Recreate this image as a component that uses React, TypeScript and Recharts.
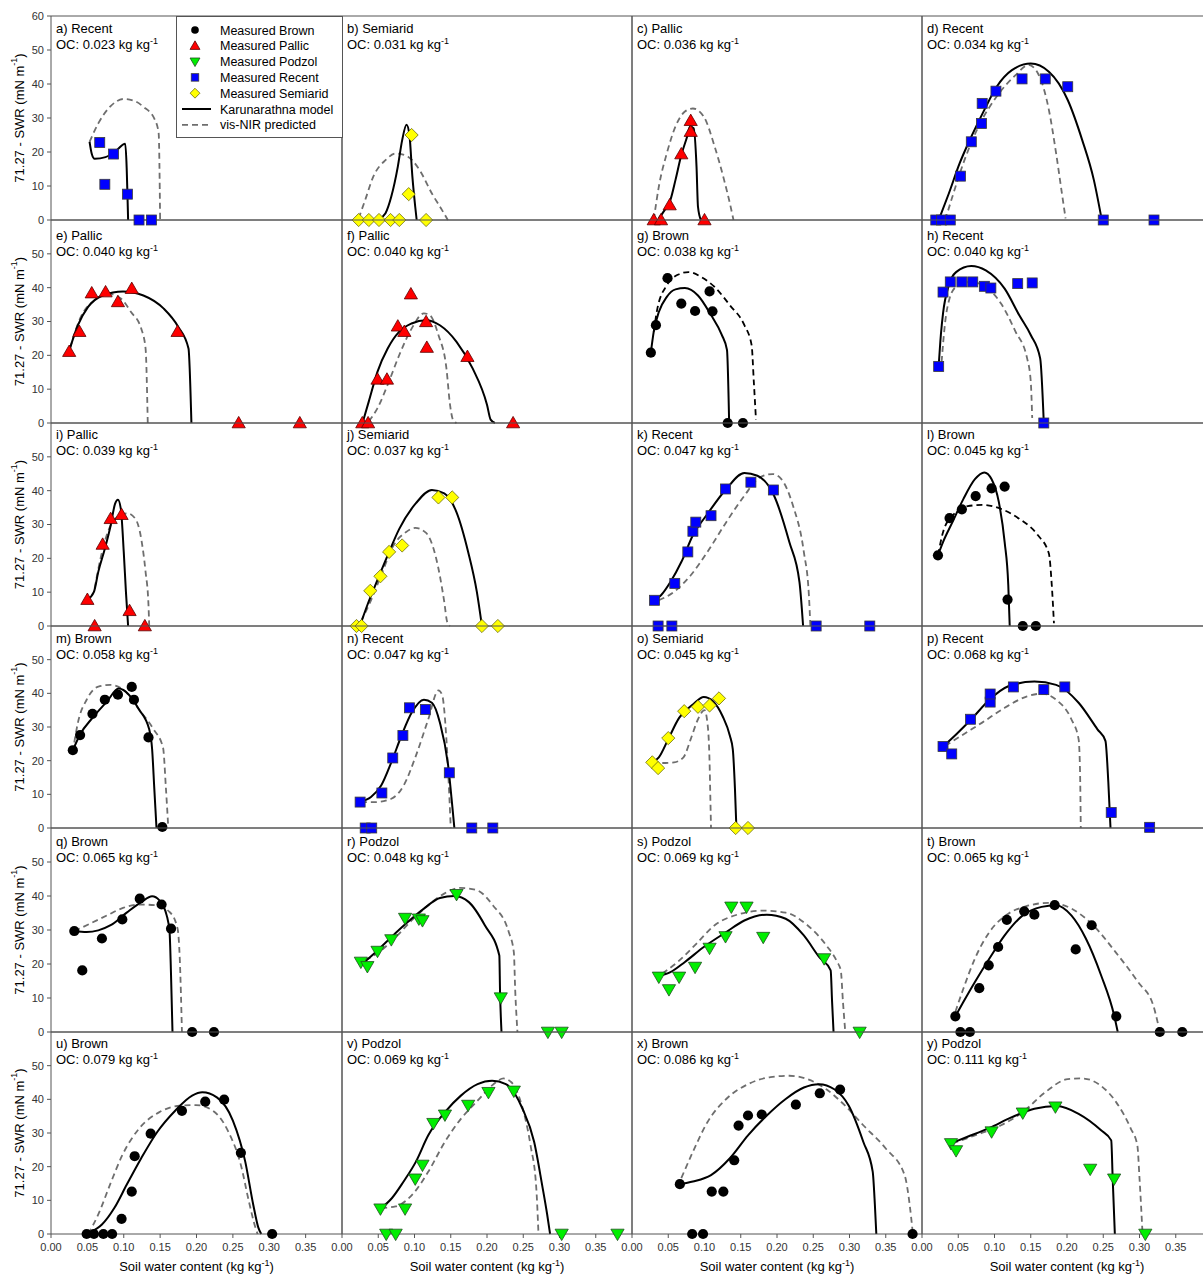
import React from 'react'
import { ComposedChart, Line, Scatter, XAxis, YAxis, ReferenceLine, Legend } from 'recharts'

type Pt = [number, number]

// panel headers
const panelIds = ['a', 'b', 'c', 'd', 'e', 'f', 'g', 'h', 'i', 'j', 'k', 'l', 'm', 'n', 'o', 'p', 'q', 'r', 's', 't', 'u', 'v', 'x', 'y']
const soilTypes = [
  'Recent', 'Semiarid', 'Pallic', 'Recent',
  'Pallic', 'Pallic', 'Brown', 'Recent',
  'Pallic', 'Semiarid', 'Recent', 'Brown',
  'Brown', 'Recent', 'Semiarid', 'Recent',
  'Brown', 'Podzol', 'Podzol', 'Brown',
  'Brown', 'Podzol', 'Brown', 'Podzol',
]
const ocValues = [
  '0.023', '0.031', '0.036', '0.034',
  '0.040', '0.040', '0.038', '0.040',
  '0.039', '0.037', '0.047', '0.045',
  '0.058', '0.047', '0.045', '0.068',
  '0.065', '0.048', '0.069', '0.065',
  '0.079', '0.069', '0.086', '0.111',
]
// panels where the vis-NIR curve is drawn black
const blackNirPanels = ['g', 'l']

const xTicks = [0, 0.05, 0.1, 0.15, 0.2, 0.25, 0.3, 0.35]
const yTicks = [0, 10, 20, 30, 40, 50]
const yTicksTop = [0, 10, 20, 30, 40, 50, 60]

const legendLabels = ['Measured Brown', 'Measured Pallic', 'Measured Podzol', 'Measured Recent', 'Measured Semiarid', 'Karunarathna model', 'vis-NIR predicted']
const legendSoils = ['Brown', 'Pallic', 'Podzol', 'Recent', 'Semiarid']

// [soil water content, 71.27 - SWR]
const aPts: Pt[] = [[0.067, 22.8], [0.086, 19.4], [0.074, 10.5], [0.105, 7.6], [0.121, 0], [0.138, 0]]
const aModel: Pt[] = [[0.053, 23], [0.056, 19.5], [0.060, 18], [0.075, 18.5], [0.090, 20.5], [0.102, 22.4], [0.106, 0]]
const aNir: Pt[] = [[0.053, 23], [0.065, 28.4], [0.082, 33.5], [0.100, 35.6], [0.115, 35], [0.127, 33.3], [0.143, 29.4], [0.148, 25.5], [0.150, 0]]

const bPts: Pt[] = [[0.023, 0], [0.037, 0], [0.051, 0], [0.067, 0], [0.079, 0], [0.096, 25], [0.092, 7.6], [0.116, 0]]
const bModel: Pt[] = [[0.051, 0.3], [0.060, 2], [0.068, 6.9], [0.077, 15.7], [0.083, 23.5], [0.089, 28], [0.093, 25], [0.097, 13], [0.101, 3.9], [0.103, 0]]
const bNir: Pt[] = [[0.023, 0.5], [0.032, 5.9], [0.043, 12.7], [0.060, 17.6], [0.074, 19.6], [0.091, 18.6], [0.107, 14.7], [0.124, 7.8], [0.138, 2.9], [0.146, 0]]

const cPts: Pt[] = [[0.030, 0], [0.040, 0], [0.052, 4.4], [0.068, 19.4], [0.081, 26], [0.081, 29.2], [0.100, 0]]
const cModel: Pt[] = [[0.037, 0.5], [0.045, 2.9], [0.053, 5.9], [0.060, 11.8], [0.068, 19.1], [0.076, 24.5], [0.080, 27.5], [0.085, 27], [0.089, 15.7], [0.091, 3.9], [0.095, 0]]
const cNir: Pt[] = [[0.030, 0], [0.037, 9.8], [0.048, 19.6], [0.060, 27.5], [0.073, 31.9], [0.084, 32.8], [0.099, 30.4], [0.114, 21.6], [0.127, 11.8], [0.135, 4.9], [0.140, 0]]

const dPts: Pt[] = [[0.019, 0], [0.027, 0], [0.039, 0], [0.053, 12.9], [0.068, 23], [0.082, 28.4], [0.083, 34.3], [0.102, 37.9], [0.138, 41.5], [0.170, 41.5], [0.201, 39.2], [0.250, 0], [0.320, 0]]
const dModel: Pt[] = [[0.024, 0.5], [0.037, 7.8], [0.052, 16.7], [0.068, 24.5], [0.086, 32.4], [0.103, 39.2], [0.124, 44.1], [0.150, 46], [0.175, 43.6], [0.201, 35.3], [0.221, 23.5], [0.237, 11.8], [0.248, 0]]
const dNir: Pt[] = [[0.032, 0], [0.042, 6.9], [0.057, 16.7], [0.078, 27.5], [0.103, 36.3], [0.129, 42.6], [0.147, 45.6], [0.160, 43.1], [0.175, 32.4], [0.185, 19.6], [0.193, 7.8], [0.198, 0.5]]

const ePts: Pt[] = [[0.025, 21.1], [0.039, 27], [0.056, 38.4], [0.075, 38.7], [0.092, 35.8], [0.111, 39.7], [0.174, 27], [0.258, 0], [0.342, 0]]
const eModel: Pt[] = [[0.026, 22], [0.037, 28.9], [0.051, 34.3], [0.071, 37.7], [0.099, 38.9], [0.127, 37.7], [0.155, 33.8], [0.175, 28.4], [0.189, 22], [0.193, 0]]
const eNir: Pt[] = [[0.026, 22], [0.040, 30.9], [0.060, 36.3], [0.079, 38.2], [0.096, 36.8], [0.110, 32.8], [0.124, 27.9], [0.130, 22], [0.133, 0]]

const fPts: Pt[] = [[0.028, 0], [0.036, 0], [0.049, 12.9], [0.062, 12.9], [0.077, 28.6], [0.086, 27], [0.095, 38.1], [0.116, 29.9], [0.117, 22.3], [0.173, 19.6], [0.236, 0]]
const fModel: Pt[] = [[0.029, 0.5], [0.037, 6.4], [0.049, 15.2], [0.063, 22], [0.079, 27], [0.096, 29.4], [0.116, 30.4], [0.135, 28.9], [0.158, 24], [0.180, 16.2], [0.200, 5.4], [0.205, 1], [0.211, 0]]
const fNir: Pt[] = [[0.037, 0.5], [0.049, 4.4], [0.063, 11.3], [0.079, 20.1], [0.096, 27.9], [0.113, 32.4], [0.121, 31.9], [0.133, 26], [0.144, 16.2], [0.149, 5.4], [0.153, 1], [0.158, 0]]

const gPts: Pt[] = [[0.026, 20.8], [0.033, 28.9], [0.049, 42.8], [0.068, 35.3], [0.087, 33.1], [0.107, 38.9], [0.111, 33], [0.132, 0], [0.153, 0]]
const gModel: Pt[] = [[0.026, 20.8], [0.030, 27], [0.037, 32.8], [0.048, 37.3], [0.060, 39.5], [0.073, 39.9], [0.091, 37.7], [0.109, 31.9], [0.124, 26], [0.131, 21.6], [0.134, 0]]
const gNir: Pt[] = [[0.030, 27], [0.035, 33.8], [0.048, 40.7], [0.063, 43.8], [0.078, 44.6], [0.096, 43.1], [0.114, 40.2], [0.135, 34.8], [0.155, 28.9], [0.165, 23], [0.168, 12.3], [0.171, 1]]

const hPts: Pt[] = [[0.023, 16.7], [0.029, 38.7], [0.039, 41.7], [0.055, 41.7], [0.070, 41.7], [0.086, 40.4], [0.095, 39.9], [0.132, 41.2], [0.152, 41.4], [0.168, 0]]
const hModel: Pt[] = [[0.023, 16.7], [0.026, 26], [0.029, 32.4], [0.037, 40.7], [0.047, 44.6], [0.068, 46.4], [0.088, 45.1], [0.114, 39.7], [0.134, 31.9], [0.150, 26], [0.163, 19.1], [0.168, 0]]
const hNir: Pt[] = [[0.027, 18], [0.032, 29.9], [0.038, 36.8], [0.047, 40.2], [0.068, 41.7], [0.088, 40.2], [0.109, 35.3], [0.129, 27], [0.145, 19.1], [0.150, 12.3], [0.152, 1.5]]

const iPts: Pt[] = [[0.050, 7.8], [0.060, 0], [0.071, 24.1], [0.082, 31.7], [0.097, 32.9], [0.108, 4.5], [0.129, 0]]
const iModel: Pt[] = [[0.050, 7.8], [0.059, 10.1], [0.065, 16], [0.074, 22.8], [0.082, 29.7], [0.088, 36.1], [0.092, 37.3], [0.096, 34.6], [0.100, 21.9], [0.103, 10.1], [0.106, 0]]
const iNir: Pt[] = [[0.060, 11.1], [0.068, 19.9], [0.078, 27.7], [0.088, 31.7], [0.105, 33.3], [0.116, 31.7], [0.124, 25.8], [0.130, 16], [0.134, 6.2], [0.135, 0]]

const jPts: Pt[] = [[0.020, 0], [0.027, 0], [0.039, 10.4], [0.053, 14.7], [0.065, 21.9], [0.083, 23.8], [0.133, 38], [0.152, 38], [0.193, 0], [0.215, 0]]
const jModel: Pt[] = [[0.026, 0.8], [0.035, 6.2], [0.046, 12.1], [0.063, 20.9], [0.079, 28.7], [0.102, 36.3], [0.124, 40.2], [0.141, 39.2], [0.158, 33.6], [0.174, 21.9], [0.186, 10.1], [0.193, 0]]
const jNir: Pt[] = [[0.026, 1.3], [0.040, 7.6], [0.054, 15], [0.071, 23.8], [0.088, 27.7], [0.101, 29], [0.116, 27.5], [0.130, 19.9], [0.141, 7.2], [0.145, 1.3], [0.149, 0]]

const kPts: Pt[] = [[0.031, 7.6], [0.036, 0], [0.055, 0], [0.059, 12.6], [0.077, 21.9], [0.084, 28], [0.088, 30.7], [0.109, 32.6], [0.129, 40.5], [0.164, 42.5], [0.195, 40.2], [0.254, 0], [0.328, 0]]
const kModel: Pt[] = [[0.031, 7.6], [0.040, 9.1], [0.053, 13], [0.068, 18.9], [0.084, 26.8], [0.104, 33.1], [0.130, 40.5], [0.155, 45.2], [0.173, 44.4], [0.196, 38.5], [0.217, 24.8], [0.231, 13], [0.236, 0]]
const kNir: Pt[] = [[0.037, 7.6], [0.058, 10.1], [0.081, 15], [0.104, 21.9], [0.130, 30.7], [0.155, 38.5], [0.176, 43.9], [0.194, 44.9], [0.206, 43.4], [0.222, 35.6], [0.237, 21.9], [0.244, 9.1], [0.246, 0]]

const lPts: Pt[] = [[0.022, 20.9], [0.038, 31.9], [0.055, 34.5], [0.074, 38.4], [0.096, 40.7], [0.114, 41.2], [0.118, 7.8], [0.139, 0], [0.157, 0]]
const lModel: Pt[] = [[0.022, 20.9], [0.029, 24.8], [0.042, 30.7], [0.057, 37.5], [0.073, 43.4], [0.086, 45.4], [0.096, 43.4], [0.106, 36.6], [0.114, 24.8], [0.119, 12.1], [0.121, 0]]
const lNir: Pt[] = [[0.022, 20.9], [0.029, 27.7], [0.042, 32.6], [0.063, 35.4], [0.083, 35.8], [0.109, 34.6], [0.134, 31.7], [0.160, 26.8], [0.175, 21.4], [0.179, 12.1], [0.182, 0.8]]

const mPts: Pt[] = [[0.030, 23.1], [0.040, 27.6], [0.057, 33.9], [0.074, 38.1], [0.092, 39.6], [0.111, 41.9], [0.114, 38.1], [0.134, 26.9], [0.153, 0.3]]
const mModel: Pt[] = [[0.030, 23.1], [0.040, 27.8], [0.057, 32.7], [0.077, 37.6], [0.093, 41.4], [0.107, 39.6], [0.121, 35.2], [0.135, 29.3], [0.139, 23.4], [0.142, 11.7], [0.145, 0]]
const mNir: Pt[] = [[0.032, 25.4], [0.037, 31.3], [0.049, 38.1], [0.065, 42], [0.082, 42.5], [0.102, 40.6], [0.121, 35.2], [0.141, 29.3], [0.154, 23.9], [0.158, 11.7], [0.161, 0.9]]

const nPts: Pt[] = [[0.025, 7.7], [0.032, 0], [0.041, 0], [0.055, 10.4], [0.070, 20.8], [0.084, 27.5], [0.093, 35.7], [0.115, 35.2], [0.148, 16.4], [0.179, 0], [0.208, 0]]
const nModel: Pt[] = [[0.025, 7.7], [0.040, 9.2], [0.054, 12.6], [0.068, 19.5], [0.082, 27.4], [0.096, 34.2], [0.113, 38.1], [0.124, 37.2], [0.135, 31.3], [0.147, 17.5], [0.152, 6.8], [0.155, 0]]
const nNir: Pt[] = [[0.026, 7.7], [0.046, 7.7], [0.068, 8.7], [0.085, 12.6], [0.102, 21.5], [0.119, 32.3], [0.133, 40.9], [0.138, 39.6], [0.144, 26.4], [0.148, 9.7], [0.150, 0]]

const oPts: Pt[] = [[0.028, 19.5], [0.036, 17.8], [0.050, 26.7], [0.072, 34.7], [0.091, 36], [0.107, 36.4], [0.120, 38.5], [0.143, 0], [0.160, 0]]
const oModel: Pt[] = [[0.028, 19.5], [0.037, 21], [0.050, 26.4], [0.065, 32.7], [0.084, 36.7], [0.099, 38.9], [0.112, 37.6], [0.125, 33.2], [0.135, 27.4], [0.139, 23.4], [0.142, 11.7], [0.144, 0]]
const oNir: Pt[] = [[0.028, 19.5], [0.040, 19.3], [0.058, 19.5], [0.071, 21], [0.081, 26.4], [0.091, 32.3], [0.100, 35], [0.104, 31.3], [0.107, 19.5], [0.108, 9.7], [0.109, 0]]

const pPts: Pt[] = [[0.029, 24.2], [0.041, 22], [0.067, 32.3], [0.094, 37.4], [0.094, 39.8], [0.126, 41.9], [0.168, 41.1], [0.197, 41.9], [0.261, 4.6], [0.314, 0.2]]
const pModel: Pt[] = [[0.029, 24.2], [0.047, 27.8], [0.068, 32.3], [0.093, 38.1], [0.119, 42.1], [0.155, 43.5], [0.185, 42.5], [0.216, 37.2], [0.242, 29.3], [0.253, 25.9], [0.257, 13.6], [0.260, 0]]
const pNir: Pt[] = [[0.032, 24.4], [0.057, 27.8], [0.083, 31.3], [0.114, 35.7], [0.145, 39.1], [0.165, 39.9], [0.185, 38.1], [0.206, 32.3], [0.216, 26.4], [0.218, 16.6], [0.219, 0]]

const qPts: Pt[] = [[0.032, 29.7], [0.043, 18.1], [0.070, 27.5], [0.098, 33.1], [0.122, 39.2], [0.152, 37.5], [0.165, 30.4], [0.194, 0], [0.224, 0]]
const qModel: Pt[] = [[0.032, 29.7], [0.049, 29.4], [0.065, 29.9], [0.082, 31.4], [0.104, 35.1], [0.124, 38.2], [0.139, 39.9], [0.149, 38.7], [0.159, 34.3], [0.163, 29.4], [0.165, 16.7], [0.167, 0]]
const qNir: Pt[] = [[0.032, 29.7], [0.054, 31.9], [0.077, 34.3], [0.099, 36.5], [0.121, 37.5], [0.143, 37.3], [0.163, 35.3], [0.174, 30.4], [0.177, 21.6], [0.180, 0]]

const rPts: Pt[] = [[0.026, 20.6], [0.035, 19.3], [0.049, 23.8], [0.068, 27.2], [0.087, 33.5], [0.106, 33.3], [0.111, 32.8], [0.158, 40.5], [0.219, 10.1], [0.284, 0], [0.303, 0]]
const rModel: Pt[] = [[0.032, 20.8], [0.049, 24], [0.068, 27.9], [0.091, 32.4], [0.113, 36.3], [0.135, 39.4], [0.155, 40], [0.175, 38.2], [0.197, 31.4], [0.217, 22.5], [0.218, 11.8], [0.220, 0]]
const rNir: Pt[] = [[0.032, 21.1], [0.051, 23.5], [0.074, 27.9], [0.096, 32.8], [0.119, 37.3], [0.141, 40.7], [0.163, 42.4], [0.186, 41.7], [0.208, 37.3], [0.230, 29.4], [0.237, 23.5], [0.239, 11.8], [0.242, 0]]

const sPts: Pt[] = [[0.037, 16.2], [0.051, 12.5], [0.065, 16.2], [0.087, 19.1], [0.107, 24.7], [0.129, 28.1], [0.137, 36.8], [0.158, 36.8], [0.181, 27.9], [0.265, 21.6], [0.314, 0]]
const sModel: Pt[] = [[0.037, 16.5], [0.053, 17.6], [0.073, 20.6], [0.099, 25], [0.130, 29.4], [0.155, 32.8], [0.186, 34.5], [0.212, 33.3], [0.237, 28.4], [0.258, 22.1], [0.274, 18.1], [0.276, 8.8], [0.278, 0]]
const sNir: Pt[] = [[0.042, 17.2], [0.063, 20.6], [0.089, 26], [0.114, 31.4], [0.145, 34.5], [0.181, 35.7], [0.212, 35.1], [0.242, 31.4], [0.268, 25.5], [0.283, 20.6], [0.288, 18.1], [0.291, 8.8], [0.294, 0.5]]

const tPts: Pt[] = [[0.046, 4.6], [0.053, 0], [0.066, 0], [0.079, 12.9], [0.092, 19.6], [0.105, 25], [0.117, 33], [0.141, 35.5], [0.155, 34.5], [0.183, 37.3], [0.212, 24.3], [0.234, 31.4], [0.268, 4.6], [0.328, 0], [0.359, 0]]
const tModel: Pt[] = [[0.046, 4.6], [0.057, 8.8], [0.073, 14.7], [0.093, 21.6], [0.114, 28.4], [0.139, 34.3], [0.165, 36.8], [0.185, 37.3], [0.206, 34.3], [0.226, 27.5], [0.247, 16.7], [0.265, 4.9], [0.270, 0]]
const tNir: Pt[] = [[0.046, 5.9], [0.057, 12.7], [0.073, 21.6], [0.093, 29.4], [0.119, 34.8], [0.144, 37], [0.175, 38], [0.206, 36.3], [0.236, 31.4], [0.267, 23.5], [0.298, 14.7], [0.319, 7.8], [0.327, 1]]

const uPts: Pt[] = [[0.049, 0], [0.059, 0], [0.072, 0], [0.084, 0], [0.097, 4.5], [0.111, 12.6], [0.115, 23.1], [0.137, 29.8], [0.180, 36.6], [0.212, 39.3], [0.238, 39.9], [0.261, 24.1], [0.304, 0]]
const uModel: Pt[] = [[0.053, 0.4], [0.070, 2.8], [0.087, 7.7], [0.104, 14.6], [0.124, 22.5], [0.146, 30.3], [0.171, 36.7], [0.194, 41.1], [0.208, 42.1], [0.228, 40.6], [0.250, 33.7], [0.267, 21.5], [0.278, 8.7], [0.285, 1.9], [0.289, 0]]
const uNir: Pt[] = [[0.051, 0], [0.065, 5.8], [0.081, 14.6], [0.098, 23.4], [0.121, 31.3], [0.149, 36.2], [0.177, 38.1], [0.199, 38.3], [0.222, 36.7], [0.244, 30.3], [0.261, 20.5], [0.272, 9.7], [0.281, 1.9], [0.284, 0]]

const vPts: Pt[] = [[0.053, 7.5], [0.061, 0], [0.074, 0], [0.087, 7.5], [0.101, 16.4], [0.111, 20.5], [0.126, 32.9], [0.142, 35.4], [0.174, 38.3], [0.202, 42.1], [0.237, 42.5], [0.303, 0], [0.380, 0]]
const vModel: Pt[] = [[0.053, 7.5], [0.069, 10.7], [0.085, 15.6], [0.102, 21.5], [0.119, 29.3], [0.142, 36.2], [0.164, 41.1], [0.187, 44.5], [0.207, 45.5], [0.226, 44.5], [0.249, 37.2], [0.265, 27.4], [0.276, 14.6], [0.283, 5.8], [0.287, 0]]
const vNir: Pt[] = [[0.054, 7.7], [0.074, 8.2], [0.097, 11.7], [0.119, 18.5], [0.142, 27.4], [0.164, 34.2], [0.187, 39.6], [0.209, 44.5], [0.223, 46.2], [0.234, 45], [0.248, 38.2], [0.260, 26.4], [0.268, 13.6], [0.271, 0]]

const xPts: Pt[] = [[0.066, 14.8], [0.083, 0], [0.098, 0], [0.110, 12.6], [0.126, 12.6], [0.141, 21.9], [0.147, 32.2], [0.160, 35.2], [0.179, 35.5], [0.226, 38.4], [0.259, 41.8], [0.287, 42.9], [0.387, 0]]
const xModel: Pt[] = [[0.066, 14.8], [0.084, 15.6], [0.109, 17.5], [0.135, 22.5], [0.160, 29.3], [0.186, 35.2], [0.212, 40.1], [0.237, 43.5], [0.258, 44.5], [0.279, 43], [0.299, 38.1], [0.319, 27.4], [0.332, 18.5], [0.335, 8.7], [0.337, 0]]
const xNir: Pt[] = [[0.068, 16.6], [0.084, 24.4], [0.104, 33.2], [0.130, 40.1], [0.160, 44.5], [0.191, 46.6], [0.217, 47], [0.242, 46], [0.268, 43], [0.294, 38.1], [0.319, 32.3], [0.350, 25.4], [0.376, 17.5], [0.383, 8.7], [0.387, 0.9]]

const yPts: Pt[] = [[0.040, 26.9], [0.047, 24.8], [0.096, 30.4], [0.139, 36], [0.184, 37.8], [0.232, 19.3], [0.265, 16.4], [0.308, 0]]
const yModel: Pt[] = [[0.040, 26.9], [0.062, 28.8], [0.093, 31.5], [0.124, 34.7], [0.155, 37.2], [0.186, 38], [0.216, 35.7], [0.247, 30.8], [0.261, 27.8], [0.263, 16.6], [0.266, 0]]
const yNir: Pt[] = [[0.042, 26.9], [0.073, 29.3], [0.109, 32.3], [0.139, 36.2], [0.170, 42.1], [0.201, 46], [0.221, 46.2], [0.247, 44], [0.268, 39.1], [0.288, 31.3], [0.297, 26.4], [0.300, 16.6], [0.304, 0.9]]

const measured = [aPts, bPts, cPts, dPts, ePts, fPts, gPts, hPts, iPts, jPts, kPts, lPts, mPts, nPts, oPts, pPts, qPts, rPts, sPts, tPts, uPts, vPts, xPts, yPts]
const modelCurves = [aModel, bModel, cModel, dModel, eModel, fModel, gModel, hModel, iModel, jModel, kModel, lModel, mModel, nModel, oModel, pModel, qModel, rModel, sModel, tModel, uModel, vModel, xModel, yModel]
const nirCurves = [aNir, bNir, cNir, dNir, eNir, fNir, gNir, hNir, iNir, jNir, kNir, lNir, mNir, nNir, oNir, pNir, qNir, rNir, sNir, tNir, uNir, vNir, xNir, yNir]

// layout
const colLefts = [51, 342, 632, 922]
const colWidths = [291, 290, 290, 290]
const rowBottoms = [220, 423, 626, 828, 1032, 1234]
const firstTop = 16
const titleOffsets = [12, 15, 11, 12, 13, 11]
const YW = 45
const TM = 6
const RM = 4
const XH = 45
const FONT = '"Liberation Sans", Arial, Helvetica, sans-serif'
const FRAME = '#555'

const toXY = (pts: Pt[]) => pts.map(([x, y]) => ({ x, y }))

function Marker({ cx, cy, soil, s = 1 }: { cx?: number; cy?: number; soil: string; s?: number }) {
  if (cx == null || cy == null) return null
  if (soil === 'Brown') return <circle cx={cx} cy={cy} r={5.1 * s} fill="#000" />
  if (soil === 'Pallic')
    return <polygon points={`${cx},${cy - 6.6 * s} ${cx + 6.6 * s},${cy + 4.8 * s} ${cx - 6.6 * s},${cy + 4.8 * s}`} fill="#ff0000" stroke="#5a0000" strokeWidth={0.8} />
  if (soil === 'Podzol')
    return <polygon points={`${cx - 6.6 * s},${cy - 4.8 * s} ${cx + 6.6 * s},${cy - 4.8 * s} ${cx},${cy + 6.6 * s}`} fill="#00ee00" stroke="#1f4f1f" strokeWidth={0.8} />
  if (soil === 'Recent')
    return <rect x={cx - 5 * s} y={cy - 5 * s} width={10 * s} height={10 * s} fill="#0000ff" stroke="#3a3a3a" strokeWidth={0.8} />
  return <polygon points={`${cx},${cy - 6.6 * s} ${cx + 6.6 * s},${cy} ${cx},${cy + 6.6 * s} ${cx - 6.6 * s},${cy}`} fill="#ffff00" stroke="#6b6b10" strokeWidth={0.8} />
}

function LegendBox() {
  return (
    <div style={{ width: 167, height: 122, border: `1px solid ${FRAME}`, background: '#fff', boxSizing: 'border-box' }}>
      <svg width={165} height={120} style={{ display: 'block' }}>
        {legendLabels.map((label, i) => {
          const cy = 13 + i * 15.8
          let mark: React.ReactNode
          if (i < legendSoils.length) mark = <Marker cx={18} cy={cy} soil={legendSoils[i]} s={0.75} />
          else if (i === 5) mark = <line x1={5} x2={34} y1={cy} y2={cy} stroke="#000" strokeWidth={2} />
          else mark = <line x1={5} x2={34} y1={cy} y2={cy} stroke="#6e6e6e" strokeWidth={1.8} strokeDasharray="6 4" />
          return (
            <g key={label}>
              {mark}
              <text x={43} y={cy + 4.5} fontFamily={FONT} fontSize={12.5} fill="#000">{label}</text>
            </g>
          )
        })}
      </svg>
    </div>
  )
}

function Panel({ idx }: { idx: number }) {
  const col = idx % 4
  const row = Math.floor(idx / 4)
  const left = colLefts[col]
  const pw = colWidths[col]
  const bottom = rowBottoms[row]
  const top = row === 0 ? firstTop : rowBottoms[row - 1]
  const ph = bottom - top
  const soil = soilTypes[idx]
  const isBottom = row === rowBottoms.length - 1
  const nirColor = blackNirPanels.includes(panelIds[idx]) ? '#000' : '#6e6e6e'
  const tickStyle = { fontSize: 11, fill: '#333', fontFamily: FONT }
  const tOff = titleOffsets[row]

  const panelText = () => (
    <g fontFamily={FONT} fill="#000">
      <text x={YW + 5} y={TM + tOff + 4.5} fontSize={13}>{`${panelIds[idx]}) ${soil}`}</text>
      <text x={YW + 5} y={TM + tOff + 20.5} fontSize={13}>
        {`OC: ${ocValues[idx]} kg kg`}
        <tspan dy={-5} fontSize={9}>-1</tspan>
      </text>
      {col === 0 && (
        <text
          transform={`translate(13, ${TM + ph / 2}) rotate(-90)`}
          textAnchor="middle"
          dominantBaseline="central"
          fontSize={13}
        >
          71.27 - SWR (mN m<tspan dy={-5} fontSize={9}>-1</tspan><tspan dy={5}>)</tspan>
        </text>
      )}
    </g>
  )

  const xTitle = () => (
    <text x={YW + pw / 2} y={TM + ph + 37} textAnchor="middle" fontFamily={FONT} fontSize={13} fill="#000">
      Soil water content (kg kg<tspan dy={-5} fontSize={9}>-1</tspan><tspan dy={5}>)</tspan>
    </text>
  )

  return (
    <div style={{ position: 'absolute', left: left - YW, top: top - TM, zIndex: idx === 0 ? 2 : 1 }}>
      <ComposedChart width={YW + pw + RM} height={TM + ph + XH} margin={{ top: TM, right: RM, bottom: 0, left: 0 }}>
        <XAxis
          type="number"
          dataKey="x"
          domain={[0, 0.4]}
          ticks={xTicks}
          interval={0}
          height={XH}
          stroke={FRAME}
          tickSize={4}
          tickMargin={5}
          tick={isBottom ? tickStyle : false}
          tickFormatter={(v: number) => v.toFixed(2)}
          label={isBottom ? { content: xTitle } : undefined}
        />
        <YAxis
          type="number"
          domain={[0, 60]}
          ticks={row === 0 ? yTicksTop : yTicks}
          interval={0}
          width={YW}
          stroke={FRAME}
          tickSize={4}
          tickMargin={3}
          tick={col === 0 ? tickStyle : false}
          label={{ content: panelText }}
        />
        <ReferenceLine y={60} stroke={FRAME} />
        <ReferenceLine x={0.4} stroke={FRAME} />
        <Line
          data={toXY(nirCurves[idx])}
          dataKey="y"
          type="monotone"
          stroke={nirColor}
          strokeWidth={1.8}
          strokeDasharray="6 4"
          dot={false}
          activeDot={false}
          isAnimationActive={false}
        />
        <Line
          data={toXY(modelCurves[idx])}
          dataKey="y"
          type="monotone"
          stroke="#000"
          strokeWidth={2}
          dot={false}
          activeDot={false}
          isAnimationActive={false}
        />
        <Scatter
          data={toXY(measured[idx])}
          dataKey="y"
          isAnimationActive={false}
          shape={(p: any) => <Marker cx={p.cx} cy={p.cy} soil={soil} />}
        />
        {idx === 0 && (
          <Legend
            layout="horizontal"
            verticalAlign="middle"
            align="center"
            content={<LegendBox />}
            wrapperStyle={{ left: 176 - (left - YW), top: 16 - (top - TM), width: 167, height: 122 }}
          />
        )}
      </ComposedChart>
    </div>
  )
}

export default function App() {
  return (
    <div style={{ position: 'absolute', left: 0, top: 0, width: 1203, height: 1275, overflow: 'hidden', background: '#fff', fontFamily: FONT }}>
      {panelIds.map((id, i) => (
        <Panel key={id} idx={i} />
      ))}
    </div>
  )
}
